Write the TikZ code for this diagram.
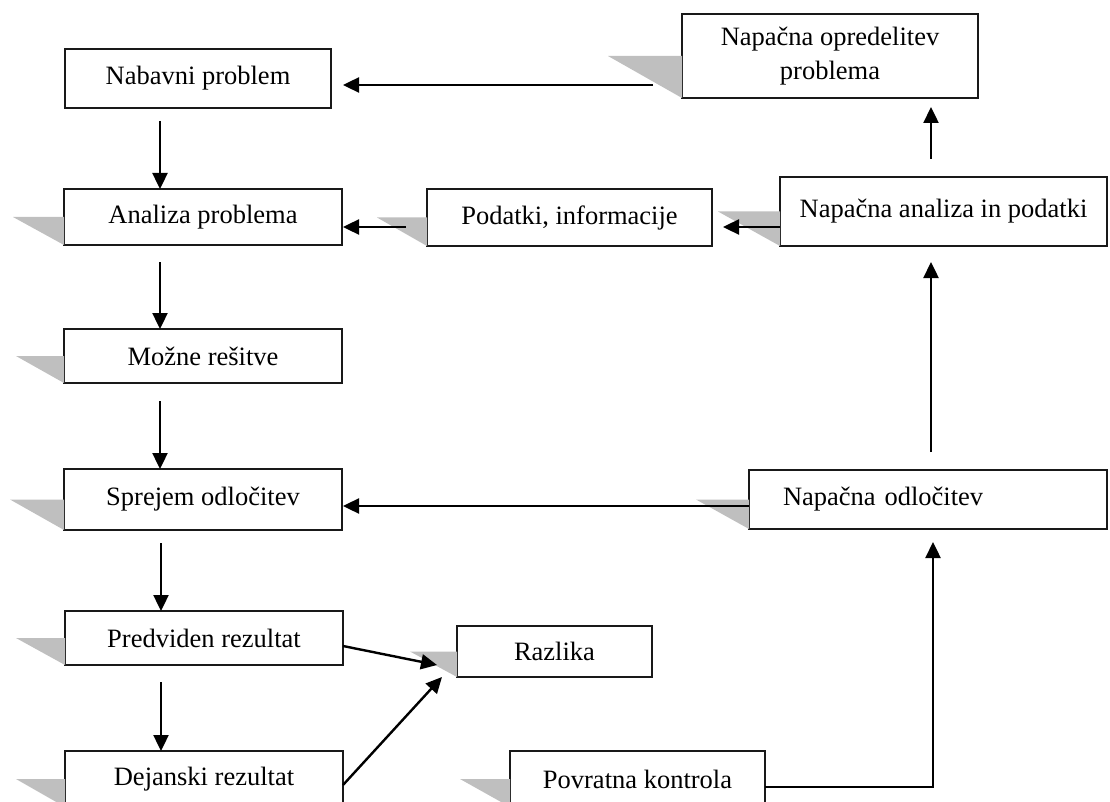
\documentclass[tikz,border=0pt]{standalone}
\usepackage{fontspec}
\setmainfont{Liberation Serif}
\usetikzlibrary{arrows.meta,calc}
\begin{document}
\begin{tikzpicture}[x=1pt,y=-1pt,
  box/.style={draw=black!90, line width=1.9pt, fill=white, inner sep=0pt, outer sep=0pt,
    font=\fontsize{26.5}{34}\selectfont, align=center},
  shadetri/.style={fill=black!25},
  arr/.style={line width=2.4pt, -{Triangle[length=16pt,width=15pt]}}]
\useasboundingbox (0,0) rectangle (1110,802);
\clip (0,0) rectangle (1110,802);

% left column
\node[box, minimum width=266pt, minimum height=59pt] (nab)   at (198,78.5)  {Nabavni problem};
\node[box, minimum width=278pt, minimum height=56pt] (anal)  at (203,217)   {Analiza problema};
\node[box, minimum width=278pt, minimum height=54pt] (mozne) at (203,356)   {Možne rešitve};
\node[box, minimum width=278pt, minimum height=61pt] (sprej) at (203,499.5) {Sprejem odločitev};
\node[box, minimum width=278pt, minimum height=54pt] (pred)  at (204,638)   {Predviden rezultat};
\node[box, minimum width=278pt, minimum height=56pt] (dej)   at (204,779)   {Dejanski rezultat};

% middle
\node[box, minimum width=285pt, minimum height=57pt] (pod)   at (569.5,217.5) {Podatki, informacije};
\node[box, minimum width=195pt, minimum height=51pt] (razl)  at (554.5,651.5) {Razlika};
\node[box, minimum width=255pt, minimum height=56pt] (povr)  at (637.5,779)   {Povratna kontrola};

% right column
\node[box, minimum width=296pt, minimum height=84pt] (nopr)  at (830,56)      {Napačna opredelitev\\problema};
\node[box, minimum width=327pt, minimum height=69pt] (nanal) at (943.5,211.5) {Napačna analiza in podatki};
\node[box, minimum height=59pt, text width=290pt, inner xsep=34pt, align=left] (nodl) at (928,499.5) {Napačna odločitev};

% shadows
\fill[shadetri] (anal.west)  -- ++(-51,0) -- (anal.south west)  -- cycle;
\fill[shadetri] (mozne.west) -- ++(-48,0) -- (mozne.south west) -- cycle;
\fill[shadetri] (sprej.west) -- ++(-54,0) -- (sprej.south west) -- cycle;
\fill[shadetri] (pred.west)  -- ++(-49,0) -- (pred.south west)  -- cycle;
\fill[shadetri] (dej.west)   -- ++(-49,0) -- (dej.south west)   -- cycle;
\fill[shadetri] (pod.west)   -- ++(-50,0) -- (pod.south west)   -- cycle;
\fill[shadetri] (razl.west)  -- ++(-47,0) -- (razl.south west)  -- cycle;
\fill[shadetri] (povr.west)  -- ++(-50,0) -- (povr.south west)  -- cycle;
\fill[shadetri] (nopr.west)  -- ++(-74,0) -- (nopr.south west)  -- cycle;
\fill[shadetri] (nanal.west) -- ++(-62,0) -- (nanal.south west) -- cycle;
\fill[shadetri] (nodl.west)  -- ++(-53,0) -- (nodl.south west)  -- cycle;

% connectors
\draw[arr] ([shift={(-29,29)}]nopr.west) -- ([shift={(12,6.5)}]nab.east);
\draw[arr] ([shift={(-38,13)}]nab.south) -- ([shift={(-43,0)}]anal.north);
\draw[arr] ([shift={(-43,17)}]anal.south) -- ([shift={(-43,0)}]mozne.north);
\draw[arr] ([shift={(-43,18)}]mozne.south) -- ([shift={(-43,0)}]sprej.north);
\draw[arr] ([shift={(-42,13)}]sprej.south) -- ([shift={(-43,0)}]pred.north);
\draw[arr] ([shift={(-43,17)}]pred.south) -- ([shift={(-43,0)}]dej.north);
\draw[arr] ([shift={(-21,9.5)}]pod.west) -- ([shift={(1,10)}]anal.east);
\draw[arr] ([shift={(0,15.5)}]nanal.west) -- ([shift={(11,9.5)}]pod.east);
\draw[arr] ([shift={(-12.5,-18)}]nanal.north) -- ([shift={(101,9)}]nopr.south);
\draw[arr] ([shift={(3,-18)}]nodl.north) -- ([shift={(-12.5,16)}]nanal.south);
\draw[arr] ([shift={(0,6.5)}]nodl.west) -- ([shift={(1,6.5)}]sprej.east);
\draw[arr] ([shift={(0,8)}]povr.east) -| ([shift={(5,13)}]nodl.south);
\draw[arr] ([shift={(0,8)}]pred.east) -- ([shift={(-20,13.5)}]razl.west);
\draw[arr] ([shift={(0,6)}]dej.east) -- ([shift={(-15,0)}]razl.south west);
\end{tikzpicture}
\end{document}
